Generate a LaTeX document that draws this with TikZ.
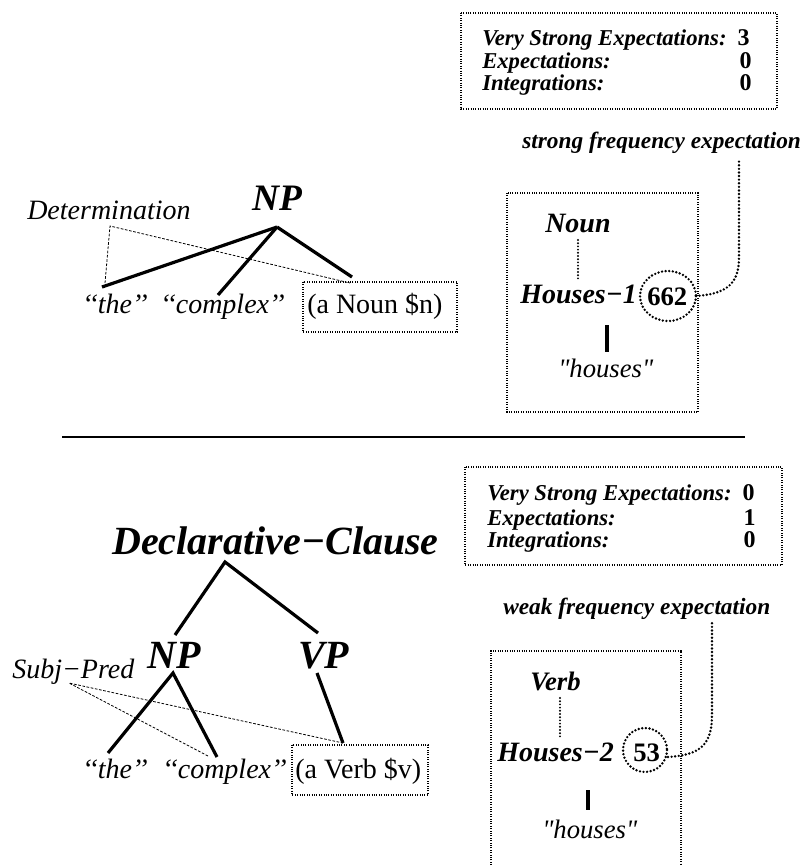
\documentclass[tikz,border=0pt]{standalone}
\usepackage{fontspec}
\setmainfont{Liberation Serif}[Ligatures=TeXOff]
\newcommand\fsz[1]{\fontsize{#1}{#1}\selectfont}
\begin{document}
\begin{tikzpicture}[x=0.75pt,y=-0.75pt,
  lbl/.style={inner sep=0pt,anchor=base west},
  bi/.style={lbl,font=\bfseries\itshape\fsz{#1}},
  it/.style={lbl,font=\itshape\fsz{#1}},
  rm/.style={lbl,font=\fsz{#1}},
  bnum/.style={inner sep=0pt,anchor=base east,font=\bfseries\fsz{18}},
  treeline/.style={line width=2.4pt},
  thinbox/.style={line width=0.8pt,densely dotted},
  relline/.style={line width=0.6pt,dash pattern=on 2pt off 1.2pt},
  bigdots/.style={line width=2pt,line cap=round,dash pattern=on 0pt off 2.7pt},
  meddots/.style={line width=1.6pt,line cap=round,dash pattern=on 0pt off 2.4pt},
]
\useasboundingbox (0,0) rectangle (806,865);

% ---------------- upper half ----------------
\draw[thinbox] (461,13) rectangle (777,109);
\node[bi=17] (s1) at (482,45) {Very Strong Expectations:};
\node[bi=17] (s2) at (482,68) {Expectations:};
\node[bi=17] (s3) at (482,90) {Integrations:};
\node[bnum] (v1) at (750,45) {3};
\node[bnum] (v2) at (752,68) {0};
\node[bnum] (v3) at (752,90) {0};

\node[bi=28,anchor=base] (np1) at (277,210) {NP};
\node[it=21] (det) at (27,219) {Determination};
\node[it=21] (the1) at (82,313) {‘‘the’’};
\node[it=21] (cpx1) at (160,313) {‘‘complex’’};
\draw[thinbox] (303,282) rectangle (457,332);
\node[rm=21] (noun1) at (307,313) {(a Noun \$n)};

\coordinate (np1a) at (277,227);
\coordinate (the1a) at (102,287);
\coordinate (cpx1a) at (218,295);
\coordinate (noun1a) at (352,277);
\coordinate (det1a) at (110,226);
\coordinate (det1b) at (105,283);
\coordinate (det1c) at (350,283);
\draw[treeline] (np1a) -- (the1a);
\draw[treeline] (np1a) -- (cpx1a);
\draw[treeline] (np1a) -- (noun1a);
\draw[relline] (det1b) -- (det1a) -- (det1c);

\node[bi=17.5] (sfe) at (522,148) {strong frequency expectation};
\draw[thinbox] (507,193) rectangle (698,412);
\node[bi=21] (nounw) at (545,232) {Noun};
\node[bi=21] (hs1) at (520,303) {Houses−1};
\node[inner sep=0pt,anchor=base west,font=\bfseries\fsz{20}] (f1) at (647,305) {662};
\node[it=20] (hq1) at (558,377) {"houses"};
\draw[meddots] (578,240) -- (578,280);
\draw[line width=2.4pt] (607,325) -- (607,352);
\draw[bigdots] (668,296) ellipse [x radius=28,y radius=25];
\coordinate (c1a) at (696,296);
\coordinate (c1b) at (739,160);
\draw[bigdots] (c1a) .. controls (725,294) and (739,285) .. (739,258) -- (c1b);

% separator
\draw[line width=1.3pt] (62,437) -- (745,437);

% ---------------- lower half ----------------
\draw[thinbox] (465,467) rectangle (782,565);
\node[bi=17] (t1) at (487,500) {Very Strong Expectations:};
\node[bi=17] (t2) at (487,525) {Expectations:};
\node[bi=17] (t3) at (487,547) {Integrations:};
\node[bnum] (w1) at (755,500) {0};
\node[bnum] (w2) at (756,525) {1};
\node[bnum] (w3) at (756,547) {0};

\node[bi=30] (dc) at (112,554) {Declarative−Clause};
\node[bi=30] (np2) at (147,668) {NP};
\node[bi=30] (vp2) at (298,668) {VP};
\node[it=21] (sp) at (12,678) {Subj−Pred};
\node[it=21] (the2) at (82,778) {‘‘the’’};
\node[it=21] (cpx2) at (162,778) {‘‘complex’’};
\draw[thinbox] (292,745) rectangle (428,795);
\node[rm=21] (verb2) at (295,778) {(a Verb \$v)};

\coordinate (dca) at (225,562);
\coordinate (np2t) at (175,635);
\coordinate (vp2t) at (318,633);
\coordinate (np2b) at (173,673);
\coordinate (vp2b) at (317,673);
\coordinate (the2a) at (108,753);
\coordinate (cpx2a) at (217,757);
\coordinate (verb2a) at (343,743);
\coordinate (spa) at (69,683);
\coordinate (cpx2b) at (208,756);
\draw[treeline] (np2t) -- (dca) -- (vp2t);
\draw[treeline] (the2a) -- (np2b) -- (cpx2a);
\draw[treeline] (vp2b) -- (verb2a);
\draw[relline] (cpx2b) -- (spa) -- (verb2a);

\node[bi=17.5] (wfe) at (503,614) {weak frequency expectation};
\draw[thinbox] (491,870) -- (491,651) -- (681,651) -- (681,870);
\node[bi=20] (verbw) at (530,690) {Verb};
\node[bi=21] (hs2) at (497,761) {Houses−2};
\node[inner sep=0pt,anchor=base west,font=\bfseries\fsz{20}] (f2) at (633,761) {53};
\node[it=20] (hq2) at (542,838) {"houses"};
\draw[meddots] (560,698) -- (560,737);
\draw[line width=2.4pt] (588,790) -- (588,810);
\draw[bigdots] (645,750) ellipse [x radius=22,y radius=22];
\coordinate (c2a) at (668,757);
\coordinate (c2b) at (712,620);
\draw[bigdots] (c2a) .. controls (700,755) and (712,745) .. (712,715) -- (c2b);
\end{tikzpicture}
\end{document}
